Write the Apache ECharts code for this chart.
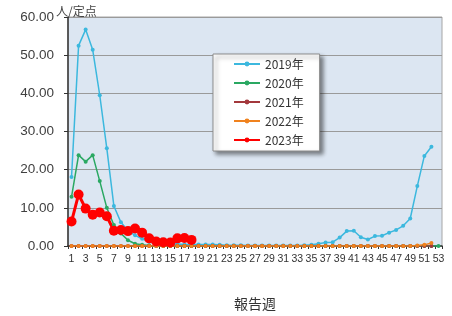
<!DOCTYPE html>
<html>
<head>
<meta charset="utf-8">
<script src="https://cdn.jsdelivr.net/npm/echarts@6/dist/echarts.min.js"></script>
<style>
html,body{margin:0;padding:0;background:#fff;}
#chart{width:452px;height:316px;}
</style>
</head>
<body>
<div id="chart"></div>
<script>
//週ラベル
var weeks=['1','2','3','4','5','6','7','8','9','10','11','12','13','14','15','16','17','18','19','20',
	'21','22','23','24','25','26','27','28','29','30','31','32','33','34','35','36','37','38','39','40',
	'41','42','43','44','45','46','47','48','49','50','51','52','53'];
var yTicks=[0,10,20,30,40,50,60];
//各年の定点当たり報告数
var y2019=[18.1,52.5,56.7,51.4,39.5,25.6,10.5,6.2,4.0,2.8,1.9,1.1,0.8,0.6,0.5,0.5,0.4,0.4,0.4,0.4,
	0.4,0.3,0.2,0.2,0.2,0.1,0.1,0.1,0.1,0.1,0.1,0.1,0.1,0.2,0.3,0.6,0.9,1.0,2.2,3.9,
	4.0,2.3,1.7,2.6,2.7,3.5,4.2,5.3,7.2,15.7,23.6,26.0];
var y2020=[12.9,23.8,22.1,23.8,17.0,10.0,5.5,3.3,1.5,0.6,0.3,0.1,0,0,0,0,0,0,0,0,
	0,0,0,0,0,0,0,0,0,0,0,0,0,0,0,0,0,0,0,0,
	0,0,0,0,0,0,0,0,0,0,0,0,0];
var y2021=[0,0,0,0,0,0,0,0,0,0,0,0,0,0,0,0,0,0,0,0,
	0,0,0,0,0,0,0,0,0,0,0,0,0,0,0,0,0,0,0,0,
	0,0,0,0,0,0,0,0,0,0,0,0];
var y2022=[0,0,0,0,0,0,0,0,0,0,0,0,0,0,0,0,0,0,0,0,
	0,0,0,0,0,0,0,0,0,0,0,0,0,0,0,0,0,0,0,0,
	0,0,0,0,0,0,0,0,0,0.1,0.3,0.8];
var y2023=[6.4,13.5,9.8,8.2,8.8,7.8,4.0,4.2,3.9,4.6,3.5,2.0,1.2,1.0,0.9,2.0,2.1,1.6];

var yearNames=['2019年','2020年','2021年','2022年','2023年'];
var yearData=[y2019,y2020,y2021,y2022,y2023];
var yearColors=['#3cb8de','#2aa862','#a3383c','#f0821e','#ff0000'];

var numFont='"Liberation Sans", Arial, sans-serif';
var jpFont='"Noto Sans CJK JP", sans-serif';

var chart=echarts.init(document.getElementById('chart'));

var series=[];
for(var i=0;i<yearData.length;i++){
	var big=(i==4);
	series.push({
		name:yearNames[i],
		type:'line',
		data:yearData[i],
		symbol:'circle',
		symbolSize:big?10:4,
		showAllSymbol:true,
		itemStyle:{color:yearColors[i]},
		lineStyle:{color:yearColors[i],width:big?3:1.5}
	});
}

var option={
	animation:false,
	grid:{
		show:true,
		left:68,right:10,top:17,bottom:67,
		backgroundColor:'#dce6f2',
		borderColor:'#a6a6a6',
		borderWidth:1
	},
	legend:{
		orient:'vertical',
		left:213,top:54,
		data:yearNames,
		itemWidth:26,itemHeight:6,itemGap:7,
		padding:[4,16,5,20],
		backgroundColor:'#fff',
		borderColor:'#8c8c8c',
		borderWidth:1,
		shadowColor:'rgba(0,0,0,0.45)',
		shadowBlur:4,
		shadowOffsetX:3,
		shadowOffsetY:3,
		textStyle:{fontFamily:jpFont,fontSize:12,color:'#333'}
	},
	xAxis:{
		type:'category',
		data:weeks,
		boundaryGap:true,
		name:'報告週',
		nameLocation:'middle',
		nameGap:51,
		nameTextStyle:{fontFamily:jpFont,fontSize:14,color:'#333'},
		axisLine:{lineStyle:{color:'#333',width:1.5}},
		axisTick:{show:true,length:3,interval:0,lineStyle:{color:'#333'}},
		axisLabel:{interval:1,margin:8,fontFamily:numFont,fontSize:10.5,color:'#333'},
		splitLine:{show:false}
	},
	yAxis:{
		type:'value',
		min:0,max:60,interval:10,
		name:'人/定点',
		nameGap:6,
		nameMoveOverlap:false,
		nameTextStyle:{fontFamily:jpFont,fontSize:12,color:'#444',align:'left',verticalAlign:'middle',padding:[0,0,0,-12]},
		axisLine:{show:true,lineStyle:{color:'#333',width:1.5}},
		axisTick:{show:true,length:4,lineStyle:{color:'#333'}},
		axisLabel:{
			margin:14,fontFamily:numFont,fontSize:13.5,color:'#404040',
			formatter:function(v){return yTicks.indexOf(v)>=0?v.toFixed(2):'';}
		},
		splitLine:{lineStyle:{color:'#9a9a9a',width:1}}
	},
	series:series
};
chart.setOption(option);
</script>
</body>
</html>
